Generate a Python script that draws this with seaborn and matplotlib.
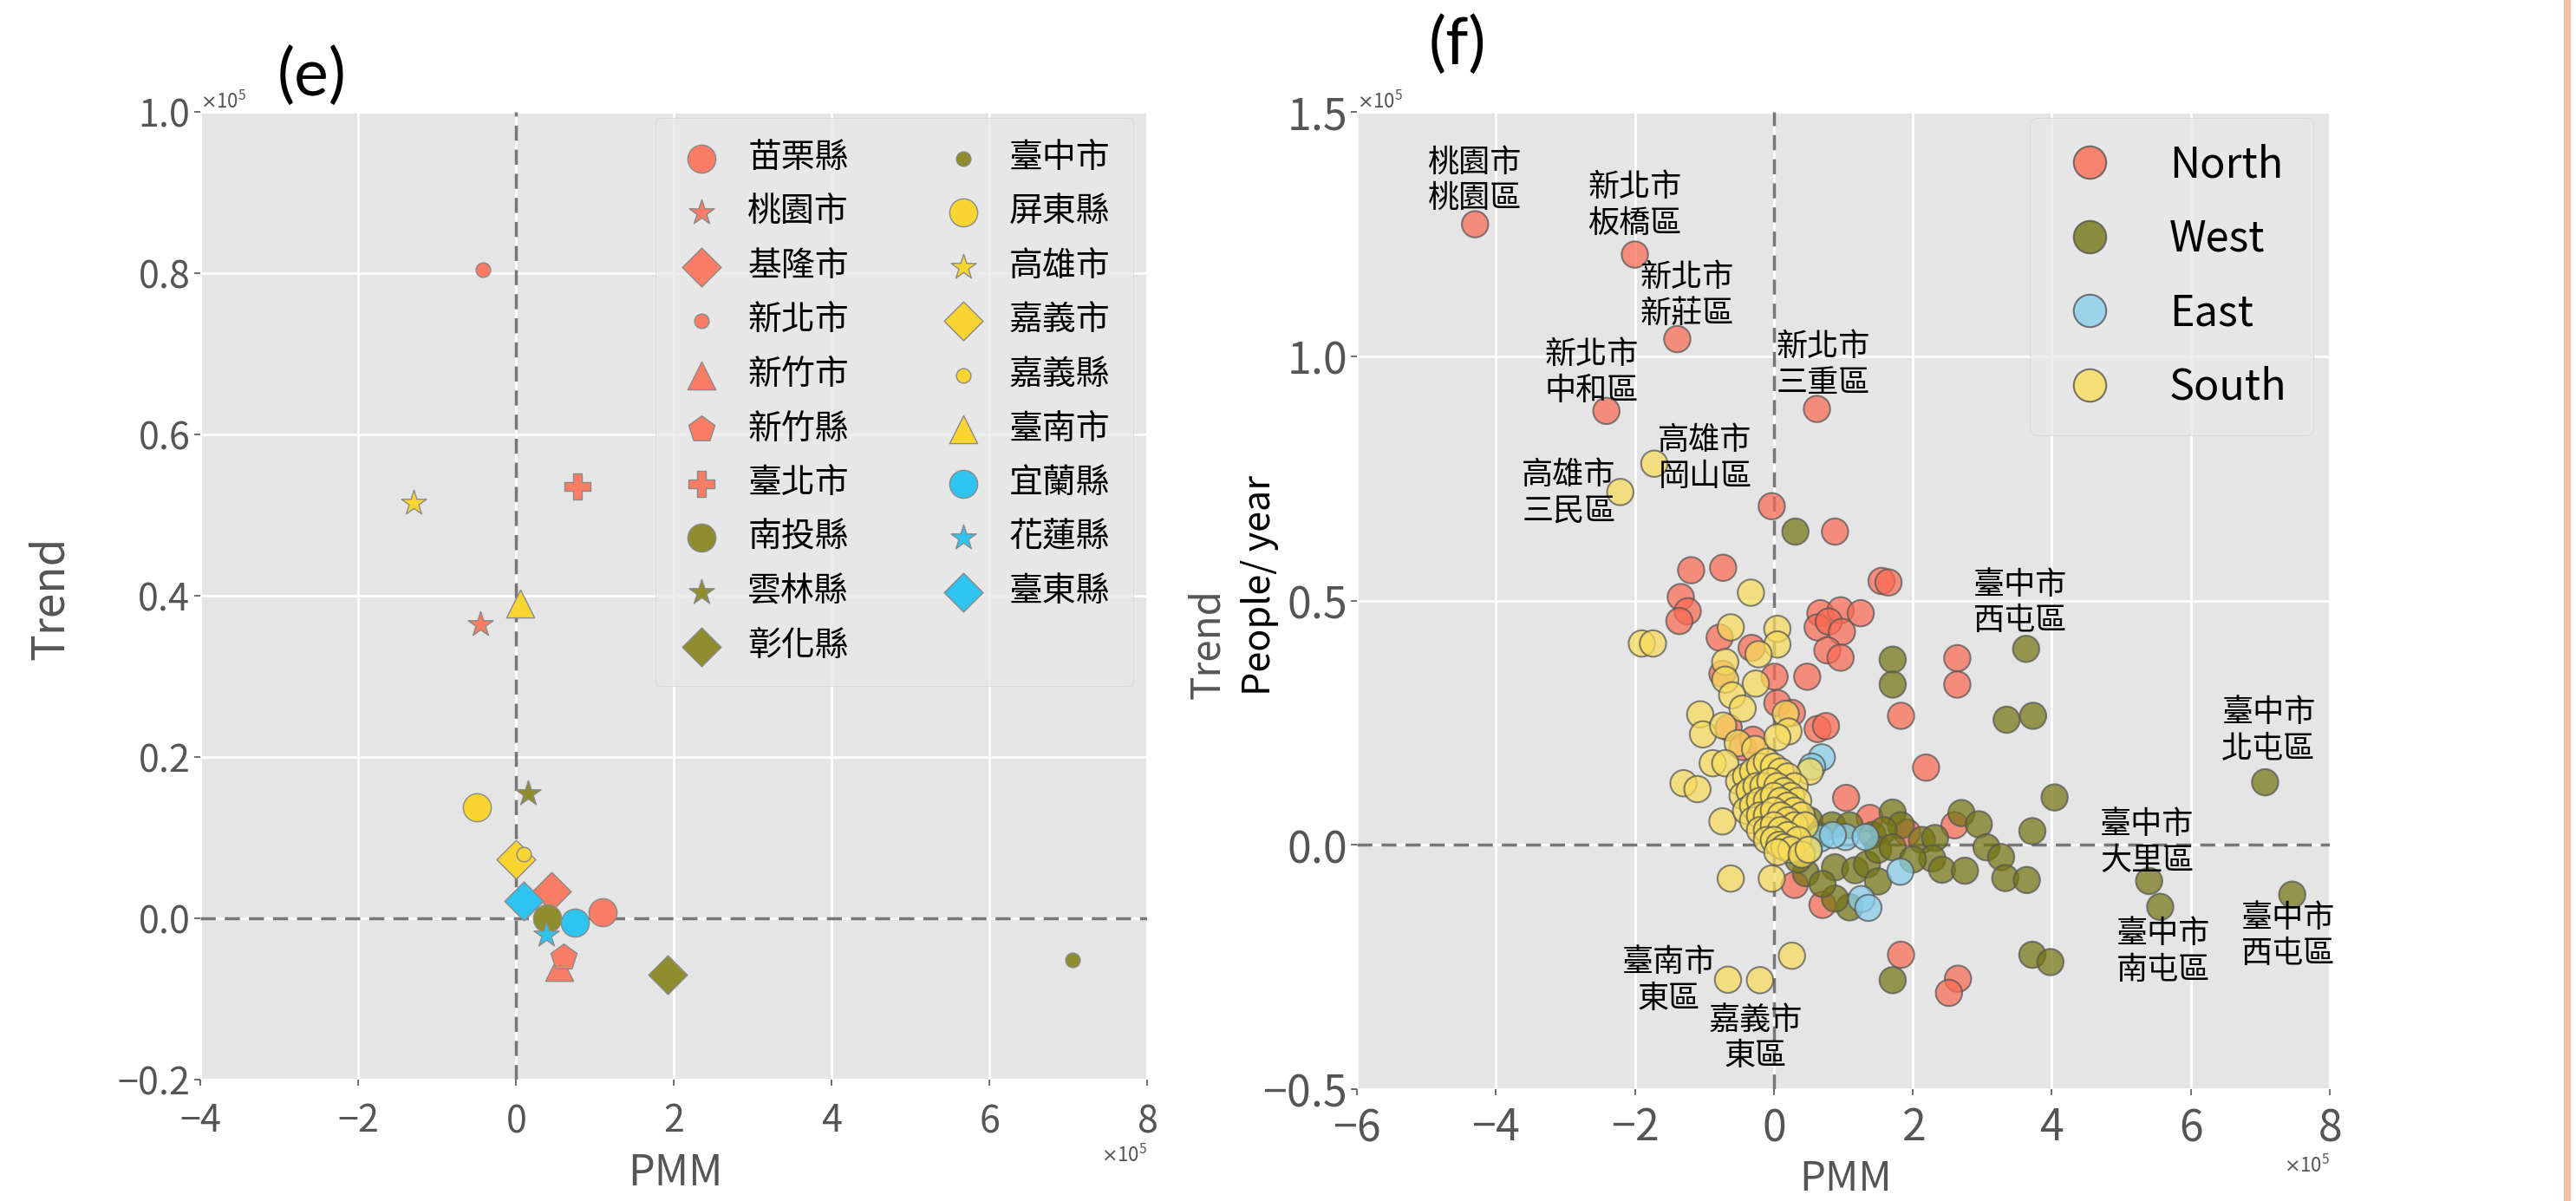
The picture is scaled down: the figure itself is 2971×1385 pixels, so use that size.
import numpy as np
import pandas as pd
import matplotlib
matplotlib.use("Agg")
import matplotlib.pyplot as plt
import seaborn as sns
from matplotlib.lines import Line2D
from matplotlib.patches import Rectangle

SCALE = 1e5  # values below are in units of 10^5

# ---------------- panel (e): counties ----------------
county_names = ['苗栗縣', '桃園市', '基隆市', '新北市', '新竹市', '新竹縣', '臺北市',
                '南投縣', '雲林縣', '彰化縣', '臺中市',
                '屏東縣', '高雄市', '嘉義市', '嘉義縣', '臺南市',
                '宜蘭縣', '花蓮縣', '臺東縣']
county_region = ['North'] * 7 + ['West'] * 4 + ['South'] * 5 + ['East'] * 3
county_pmm = [1.10, -0.45, 0.45, -0.42, 0.55, 0.60, 0.78,
              0.40, 0.15, 1.92, 7.05,
              -0.50, -1.30, 0.00, 0.10, 0.05,
              0.75, 0.38, 0.10]
county_trend = [0.008, 0.365, 0.033, 0.804, -0.060, -0.048, 0.535,
                0.000, 0.155, -0.070, -0.052,
                0.138, 0.515, 0.073, 0.080, 0.390,
                -0.005, -0.020, 0.022]

# ---------------- panel (f): districts ----------------
north_pmm = [-4.30, -2.00, -1.39, -2.41, 0.62, -0.03, 0.88, -1.19, -0.73, -1.34,
             -1.24, -1.36, 1.55, 1.65, 0.67, 0.96, 1.25, 0.63, 0.79, 0.98,
             0.77, 0.96, 0.48, -0.78, -0.32, -0.74, 0.01, 0.05, 0.26, 2.64,
             2.64, 1.83, 2.19, 0.63, 0.75, 1.04, -0.65, -0.45, -0.30, 1.38,
             1.92, 2.60, 0.30, 0.70, 1.83, 2.65, 2.52]
north_trend = [1.270, 1.208, 1.035, 0.888, 0.892, 0.693, 0.641, 0.562, 0.567, 0.507,
               0.478, 0.458, 0.540, 0.537, 0.474, 0.480, 0.474, 0.445, 0.457, 0.436,
               0.398, 0.383, 0.344, 0.424, 0.403, 0.350, 0.344, 0.290, 0.270, 0.382,
               0.328, 0.264, 0.158, 0.237, 0.243, 0.096, 0.240, 0.200, 0.215, 0.055,
               0.025, 0.040, -0.082, -0.123, -0.225, -0.274, -0.303]

west_pmm = [0.31, 1.71, 1.71, 3.63, 3.35, 3.73, 4.04, 7.07, 7.46, 5.40,
            5.56, 3.72, 3.98, 1.71, 2.70, 2.95, 3.72, 1.71, 1.83, 2.13,
            2.32, 2.28, 2.42, 2.75, 3.06, 3.27, 3.33, 3.64, 0.51, 0.84,
            1.09, 1.42, 1.58, 0.46, 0.88, 1.17, 1.34, 1.50, 1.09, 0.88,
            1.50, 1.71, 0.35, 0.62, 0.70, 2.00]
west_trend = [0.641, 0.379, 0.328, 0.401, 0.256, 0.264, 0.097, 0.128, -0.102, -0.074,
              -0.127, -0.225, -0.240, -0.277, 0.065, 0.042, 0.028, 0.066, 0.040, 0.010,
              0.014, -0.028, -0.051, -0.053, -0.005, -0.025, -0.068, -0.072, 0.050, 0.040,
              0.040, 0.020, 0.030, -0.058, -0.046, -0.052, -0.040, -0.075, -0.128, -0.110,
              -0.010, -0.005, -0.030, 0.020, -0.080, -0.030]

east_pmm = [0.69, 0.55, 0.67, 1.03, 1.32, 0.85, 1.82, 1.26, 1.36, 0.50]
east_trend = [0.179, 0.160, 0.013, 0.016, 0.016, 0.020, -0.055, -0.111, -0.129, -0.010]

south_pmm = [-1.72, -2.21, -0.33, -1.90, -1.74, 0.05, 0.05, -0.62, -0.22, -0.70,
             -0.70, -0.26, -0.60, -0.45, -1.06, -1.02, -0.73, -0.52, -0.27, 0.17,
             0.21, 0.05, -0.88, -0.70, -1.30, -1.10, -0.74, 0.26, -0.66, -0.20,
             -0.62, -0.03, 0.52,
             -0.50, -0.40, -0.30, -0.20, -0.10, 0.00, 0.10, 0.20, 0.30,
             -0.45, -0.35, -0.25, -0.15, -0.05, 0.05, 0.15, 0.25, 0.35,
             -0.40, -0.30, -0.20, -0.10, 0.00, 0.10, 0.20, 0.30, 0.40,
             -0.30, -0.20, -0.10, 0.00, 0.10, 0.20, 0.30, 0.45,
             -0.20, -0.10, 0.00, 0.10, 0.20, 0.35,
             -0.10, 0.00, 0.08, 0.15, 0.25, 0.05, 0.40, 0.50]
south_trend = [0.780, 0.722, 0.516, 0.412, 0.412, 0.442, 0.410, 0.445, 0.390, 0.374,
               0.338, 0.330, 0.306, 0.279, 0.267, 0.226, 0.244, 0.208, 0.196, 0.268,
               0.232, 0.220, 0.167, 0.167, 0.126, 0.114, 0.048, -0.227, -0.276, -0.277,
               -0.069, -0.069, 0.150,
               0.130, 0.140, 0.150, 0.160, 0.170, 0.160, 0.150, 0.140, 0.120,
               0.100, 0.110, 0.120, 0.120, 0.130, 0.120, 0.110, 0.100, 0.090,
               0.070, 0.080, 0.090, 0.090, 0.100, 0.090, 0.080, 0.070, 0.060,
               0.050, 0.060, 0.060, 0.070, 0.060, 0.050, 0.040, 0.040,
               0.030, 0.030, 0.040, 0.030, 0.020, 0.010,
               0.010, 0.010, 0.000, -0.005, -0.010, -0.015, -0.020, -0.010]

label_text = ['桃園市\n桃園區', '新北市\n板橋區', '新北市\n新莊區', '新北市\n中和區',
              '新北市\n三重區', '高雄市\n岡山區', '高雄市\n三民區', '臺中市\n西屯區',
              '臺中市\n北屯區', '臺中市\n大里區', '臺中市\n南屯區', '臺中市\n西屯區',
              '臺南市\n東區', '嘉義市\n東區']
label_pmm = [-4.30, -2.00, -1.25, -2.62, 0.71, -0.99, -2.95, 3.55,
             7.12, 5.37, 5.61, 7.40, -1.51, -0.26]
label_trend = [1.359, 1.308, 1.124, 0.966, 0.982, 0.790, 0.720, 0.495,
               0.233, 0.004, -0.220, -0.187, -0.278, -0.396]

# ---------------- styles ----------------
plt.style.use('ggplot')
plt.rcParams['font.family'] = ['Noto Sans CJK TC', 'DejaVu Sans']
plt.rcParams['axes.unicode_minus'] = True

col_e = {'North': '#F97C64', 'West': '#8E8E2E', 'South': '#F8D530', 'East': '#2FC3F0'}
marker_of = {'苗栗縣': 'o', '桃園市': '*', '基隆市': 'D', '新北市': 'o', '新竹市': '^',
             '新竹縣': 'p', '臺北市': 'P', '南投縣': 'o', '雲林縣': '*', '彰化縣': 'D',
             '臺中市': 'o', '屏東縣': 'o', '高雄市': '*', '嘉義市': 'D', '嘉義縣': 'o',
             '臺南市': '^', '宜蘭縣': 'o', '花蓮縣': '*', '臺東縣': 'D'}
size_of = {'o': 540, '*': 480, 'D': 520, '^': 540, 'p': 520, 'P': 490}
small = {'新北市', '臺中市', '嘉義縣'}

col_f = {'North': '#FA6A52', 'West': '#757514', 'East': '#87CEEB', 'South': '#F8DC5A'}
regions = ['North', 'West', 'East', 'South']

TICK = '#555555'

fig = plt.figure(figsize=(29.71, 13.85), dpi=100)
fig.patch.set_facecolor('white')
ax1 = fig.add_axes([231 / 2971, 1 - 1245 / 1385, 1092 / 2971, 1116 / 1385])
ax2 = fig.add_axes([1565 / 2971, 1 - 1256 / 1385, 1122 / 2971, 1127 / 1385])

for ax in (ax1, ax2):
    ax.set_facecolor('#E5E5E5')
    ax.grid(True, color='white', linewidth=2)
    ax.set_axisbelow(True)
    for sp in ax.spines.values():
        sp.set_visible(False)

# ---- panel (e)
for name, reg, xv, yv in zip(county_names, county_region, county_pmm, county_trend):
    m = marker_of[name]
    s = 145 if name in small else size_of[m]
    sns.scatterplot(x=[xv * SCALE], y=[yv * SCALE], ax=ax1, marker=m, s=s,
                    color=col_e[reg], edgecolor='#8A8A8A', linewidth=1.0,
                    label=name, zorder=3)

ax1.axhline(0, color='#777777', ls=(0, (5, 3)), lw=2.5, zorder=2)
ax1.axvline(0, color='#777777', ls=(0, (5, 3)), lw=2.5, zorder=2)
ax1.set_xlim(-4 * SCALE, 8 * SCALE)
ax1.set_ylim(-0.2 * SCALE, 1.0 * SCALE)
ax1.set_xticks(np.arange(-4, 9, 2) * SCALE)
ax1.set_yticks(np.arange(-0.2, 1.01, 0.2) * SCALE)
ax1.legend(ncol=2, loc='upper right', bbox_to_anchor=(0.985, 0.994), borderaxespad=0,
           fontsize=28, labelspacing=0.58, handlelength=1.4, handletextpad=0.66,
           columnspacing=2.7, borderpad=0.67, frameon=True, fancybox=True,
           framealpha=0.8, facecolor='#E8E8E8', edgecolor='#D0D0D0')

# ---- panel (f)
df = pd.DataFrame({
    'PMM': np.array(north_pmm + west_pmm + east_pmm + south_pmm) * SCALE,
    'Trend': np.array(north_trend + west_trend + east_trend + south_trend) * SCALE,
    'Region': (['North'] * len(north_pmm) + ['West'] * len(west_pmm)
               + ['East'] * len(east_pmm) + ['South'] * len(south_pmm)),
})
sns.scatterplot(data=df, x='PMM', y='Trend', hue='Region', hue_order=regions,
                palette=col_f, s=480, alpha=0.72, edgecolor='#555555', linewidth=1.5,
                ax=ax2, legend=False, zorder=3)
ax2.axhline(0, color='#777777', ls=(0, (5, 3)), lw=2.5, zorder=2)
ax2.axvline(0, color='#777777', ls=(0, (5, 3)), lw=2.5, zorder=2)
ax2.set_xlim(-6 * SCALE, 8 * SCALE)
ax2.set_ylim(-0.5 * SCALE, 1.5 * SCALE)
ax2.set_xticks(np.arange(-6, 9, 2) * SCALE)
ax2.set_yticks(np.arange(-0.5, 1.51, 0.5) * SCALE)

for t, xv, yv in zip(label_text, label_pmm, label_trend):
    ax2.text(xv * SCALE, yv * SCALE, t, ha='center', va='center', fontsize=26,
             color='black', linespacing=1.2, zorder=5)

handles = [Line2D([0], [0], marker='o', ls='', markersize=27, markerfacecolor=col_f[r],
                  markeredgecolor='#555555', markeredgewidth=1.5, alpha=0.8) for r in regions]
ax2.legend(handles, regions, loc='upper right', bbox_to_anchor=(0.983, 0.994),
           borderaxespad=0, fontsize=35, labelspacing=0.74, handlelength=1.6,
           handletextpad=1.1, borderpad=0.62, frameon=True, fancybox=True, framealpha=0.8,
           facecolor='#E8E8E8', edgecolor='#D0D0D0')

# ---- ticks, offsets, labels
for ax, fs in ((ax1, 31), (ax2, 36)):
    ax.ticklabel_format(style='sci', axis='both', scilimits=(0, 0), useMathText=True)
    ax.tick_params(axis='both', labelsize=fs, colors=TICK, length=5, width=1.2, pad=4)
    ax.yaxis.get_offset_text().set_fontsize(16)
    ax.yaxis.get_offset_text().set_color(TICK)
    ax.xaxis.get_offset_text().set_fontsize(16)
    ax.xaxis.get_offset_text().set_color(TICK)
    ax.set_xlabel('')
    ax.set_ylabel('')
ax1.tick_params(axis='x', pad=14)
ax2.tick_params(axis='x', pad=9)

fig.text(58 / 2971, 1 - 690 / 1385, 'Trend', rotation=90, ha='center', va='center',
         fontsize=37, color=TICK)
fig.text(779 / 2971, 1 - 1353 / 1385, 'PMM', ha='center', va='center',
         fontsize=35, color=TICK)
fig.text(1393 / 2971, 1 - 743 / 1385, 'Trend', rotation=90, ha='center', va='center',
         fontsize=33, color=TICK)
fig.text(1453 / 2971, 1 - 675 / 1385, 'People/ year', rotation=90, ha='center', va='center',
         fontsize=31, color='black')
fig.text(2129 / 2971, 1 - 1360 / 1385, 'PMM', ha='center', va='center',
         fontsize=34, color=TICK)

fig.text(360 / 2971, 1 - 88 / 1385, '(e)', ha='center', va='center', fontsize=54,
         color='black', family=['Lato', 'DejaVu Sans'])
fig.text(1681 / 2971, 1 - 52 / 1385, '(f)', ha='center', va='center', fontsize=54,
         color='black', family=['Lato', 'DejaVu Sans'])

fig.patches.append(Rectangle((2957 / 2971, 0), 8 / 2971, 1, transform=fig.transFigure,
                             facecolor='#F3BFA5', edgecolor='none'))

fig.savefig('out.png', dpi=100, facecolor='white')
